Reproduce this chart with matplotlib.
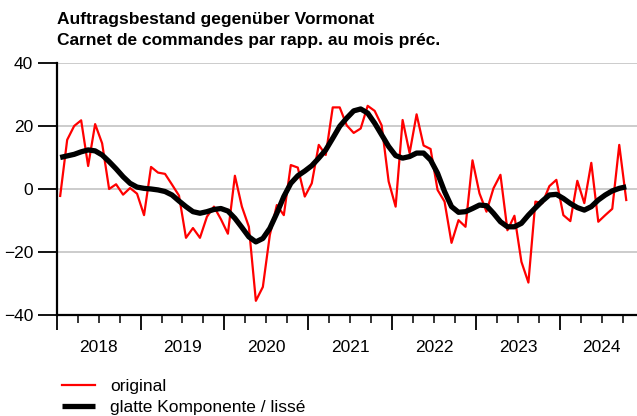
import matplotlib
matplotlib.use("Agg")
import matplotlib.pyplot as plt
from matplotlib.ticker import FixedLocator, FixedFormatter

plt.rcParams['font.family'] = ['Liberation Sans', 'DejaVu Sans']

# monthly values, Jan 2018 - Oct 2024
start_year = 2018
original = [-2.2, 15.6, 20.0, 21.8, 7.3, 20.6, 14.5, 0.0, 1.5, -1.8,
            0.3, -1.5, -8.3, 7.0, 5.2, 4.8, 1.4, -2.1, -15.5, -12.4,
            -15.5, -8.8, -5.6, -9.6, -14.2, 4.2, -5.6, -12.0, -35.5, -31.1,
            -14.6, -5.1, -8.3, 7.6, 6.8, -2.4, 1.8, 14.0, 10.8, 25.9,
            25.9, 20.2, 17.8, 19.2, 26.4, 24.8, 20.2, 2.4, -5.6, 21.9,
            11.4, 23.7, 13.8, 12.7, -0.3, -4.0, -17.1, -9.9, -12.0, 9.1,
            -1.4, -7.2, 0.2, 4.5, -13.1, -8.5, -23.1, -29.7, -4.0, -4.5,
            0.9, 2.9, -8.3, -10.2, 2.6, -4.5, 8.3, -10.4, -8.3, -6.3,
            14.0, -3.5]
glatt = [10.0, 10.5, 11.0, 11.8, 12.4, 12.1, 10.8, 8.7, 6.4, 3.9,
         1.8, 0.6, 0.2, 0.0, -0.3, -0.8, -1.9, -3.8, -5.6, -7.2,
         -7.7, -7.2, -6.5, -6.2, -7.0, -9.3, -12.2, -15.2, -16.8, -15.7,
         -12.5, -7.7, -2.4, 1.8, 4.2, 5.7, 7.4, 9.8, 12.4, 16.1,
         19.9, 22.5, 24.8, 25.4, 24.1, 20.9, 17.2, 13.5, 10.6, 9.8,
         10.3, 11.4, 11.4, 9.2, 5.0, -0.8, -5.6, -7.4, -7.2, -6.2,
         -5.1, -5.3, -7.7, -10.4, -12.0, -12.0, -10.9, -8.3, -6.0, -3.8,
         -1.9, -1.7, -3.0, -4.6, -5.9, -6.7, -5.6, -3.5, -1.9, -0.6,
         0.2, 0.7]
jahre = ['2018', '2019', '2020', '2021', '2022', '2023', '2024']
y_ticks = [-40, -20, 0, 20, 40]

# x as decimal year, middle of month
x = [start_year + (i + 0.5) / 12 for i in range(len(original))]

fig = plt.figure(figsize=(6.37, 4.16), dpi=100)
ax = fig.add_axes([0.089, 0.2428, 0.911, 0.6058])

for y in y_ticks[1:]:
    ax.axhline(y, color='#c8c8c8', lw=1.3, zorder=0)

ax.plot(x, original, color='#ff0000', lw=1.6, label='original', zorder=2)
ax.plot(x, glatt, color='black', lw=3.8, label='glatte Komponente / lissé',
        solid_capstyle='butt', zorder=3)

ax.set_ylim(-40, 40)
ax.set_xlim(2018, 2024.92)

ax.set_yticks(y_ticks)
ax.set_yticklabels(['\u221240', '\u221220', '0', '20', '40'])

# year boundaries as major ticks, quarters as minor, labels in the middle
major = [start_year + k for k in range(len(jahre))]
minor = [start_year + k + q / 4 for k in range(len(jahre)) for q in (1, 2, 3)]
minor_labels = [jahre[k] if q == 2 else '' for k in range(len(jahre)) for q in (1, 2, 3)]
ax.xaxis.set_major_locator(FixedLocator(major))
ax.xaxis.set_major_formatter(FixedFormatter([''] * len(major)))
ax.xaxis.set_minor_locator(FixedLocator(minor))
ax.xaxis.set_minor_formatter(FixedFormatter(minor_labels))

ax.tick_params(axis='y', which='major', length=14, width=1.3, pad=3, labelsize=12.5)
ax.tick_params(axis='x', which='major', length=11, width=1.3, labelsize=12.5)
ax.tick_params(axis='x', which='minor', length=6, width=1.1, pad=12, labelsize=12.5)

for s in ['top', 'right']:
    ax.spines[s].set_visible(False)
for s in ['left', 'bottom']:
    ax.spines[s].set_linewidth(1.6)

fig.text(0.089, 0.942, 'Auftragsbestand gegenüber Vormonat', fontsize=12.5,
         fontweight='bold', va='baseline')
fig.text(0.089, 0.891, 'Carnet de commandes par rapp. au mois préc.', fontsize=12.5,
         fontweight='bold', va='baseline')

fig.legend(loc='upper left', bbox_to_anchor=(0.097, 0.089), frameon=False,
           fontsize=12.5, handlelength=1.9, handletextpad=0.9, labelspacing=0.32,
           borderaxespad=0, borderpad=0)

plt.savefig('out.png', dpi=100)
